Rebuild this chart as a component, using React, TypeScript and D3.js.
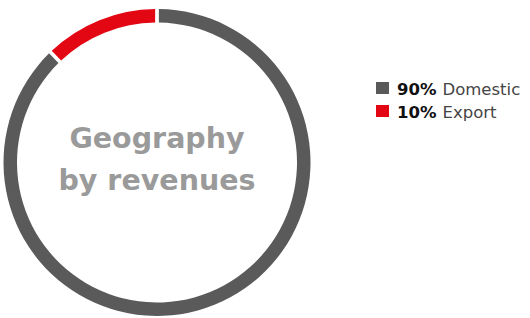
import React from 'react';
import * as d3 from 'd3';

// slices as they are drawn in the ring (export arc is a bit wider than 10% in the picture)
const segments = ['Domestic', 'Export'];
const arcShares = [88, 12];
const shareLabels = ['90%', '10%'];
const colors = ['#5a5a5a', '#e30613'];
const titleLines = ['Geography', 'by revenues'];

const W = 530;
const H = 318;

const App = () => {
  const cx = 157;
  const cy = 162.5;
  const outer = 153.5;
  const inner = 140;

  // domestic runs clockwise from 12 o'clock, export closes the ring on the upper left
  const pie = d3.pie<number>()
    .sort(null)
    .padAngle(0.018);
  const arcs = pie(arcShares);
  const arc = d3.arc<d3.PieArcDatum<number>>()
    .innerRadius(inner)
    .outerRadius(outer);

  const legendY = d3.scalePoint<string>()
    .domain(segments)
    .range([88, 111]);

  return (
    <div style={{ position: 'absolute', left: 0, top: 0 }}>
      <svg width={W} height={H} style={{ display: 'block' }}>
        <g transform={`translate(${cx},${cy})`}>
          {titleLines.map((t, i) => (
            <text
              key={t}
              x={0}
              y={-14.5 + i * 42}
              textAnchor="middle"
              fontFamily="'DejaVu Sans', sans-serif"
              fontWeight={700}
              fontSize={28.5}
              fill="#9a9a9a"
            >
              {t}
            </text>
          ))}
          {arcs.map((a, i) => (
            <path key={segments[i]} d={arc(a) || ''} fill={colors[i]} />
          ))}
        </g>
        <g>
          {segments.map((s, i) => {
            const y = legendY(s) as number;
            return (
              <g key={s} transform={`translate(376,${y})`}>
                <rect x={0} y={-6} width={13} height={12} fill={colors[i]} />
                <text
                  x={21}
                  y={7}
                  fontFamily="'DejaVu Sans', sans-serif"
                  fontSize={16.5}
                  fill="#444"
                >
                  <tspan fontWeight={700} fill="#111">{shareLabels[i]}</tspan>
                  <tspan dx={6}>{s}</tspan>
                </text>
              </g>
            );
          })}
        </g>
      </svg>
    </div>
  );
};

export default App;
